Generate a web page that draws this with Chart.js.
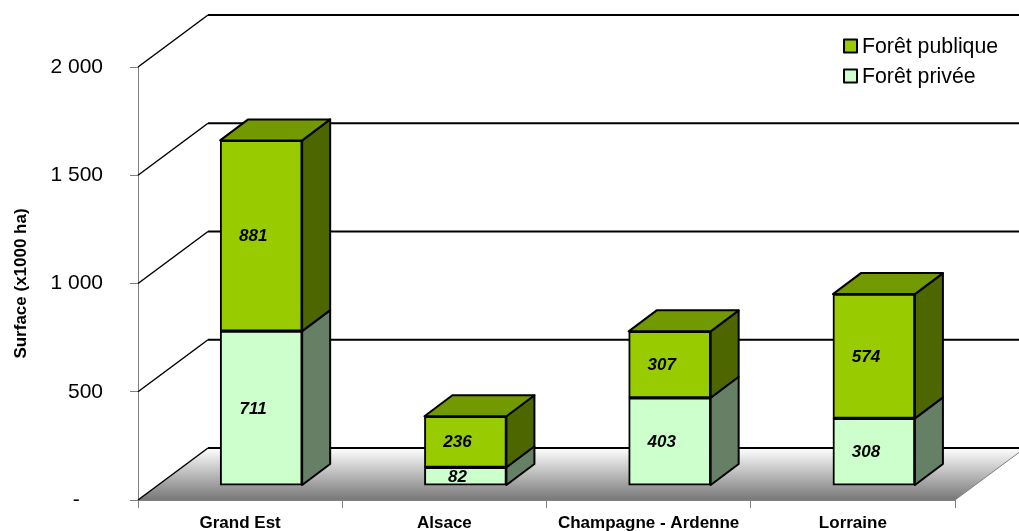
<!DOCTYPE html>
<html lang="fr">
<head>
<meta charset="utf-8">
<title>Surface forestière</title>
<script src="https://cdn.jsdelivr.net/npm/chart.js@4"></script>
<style>
  html, body { margin: 0; padding: 0; background: #fff; }
  canvas { display: block; }
</style>
</head>
<body>
<canvas id="graphique" width="1019" height="531"></canvas>
<script>
// === Données ===
const categories = ["Grand Est", "Alsace", "Champagne - Ardenne", "Lorraine"];
const foretPrivee = [711, 82, 403, 308];
const foretPublique = [881, 236, 307, 574];
const graduations = [0, 500, 1000, 1500, 2000];
const etiquettesY = ["-\u00A0\u00A0\u00A0\u00A0", "500", "1 000", "1 500", "2 000"];

// === Couleurs ===
const couleurs = {
  publique: { face: "#99CC00", dessus: "#739900", cote: "#4D6600" },
  privee: { face: "#CCFFCC", dessus: "#99BF99", cote: "#668066" },
  axe: "#808080"
};

// Profondeur de la scène 3D (mur du fond) et des barres, en pixels
const FOND = { dx: 70, dy: -52 };
const BARRE = { dx: 28, dy: -21 };
const POLICE = "'Liberation Sans', Arial, sans-serif";

function poly(ctx, pts, fill, stroke, lw) {
  ctx.beginPath();
  pts.forEach((p, i) => i ? ctx.lineTo(p[0], p[1]) : ctx.moveTo(p[0], p[1]));
  ctx.closePath();
  if (fill) { ctx.fillStyle = fill; ctx.fill(); }
  if (stroke) { ctx.strokeStyle = stroke; ctx.lineWidth = lw; ctx.lineJoin = "round"; ctx.stroke(); }
}

function ligne(ctx, x1, y1, x2, y2, color, lw) {
  ctx.beginPath();
  ctx.moveTo(x1, y1);
  ctx.lineTo(x2, y2);
  ctx.strokeStyle = color;
  ctx.lineWidth = lw;
  ctx.stroke();
}

// === Sol et mur du fond, sous les barres ===
const scene3D = {
  id: "scene3D",
  beforeDatasetsDraw(chart) {
    const { ctx, chartArea: a, scales: { y } } = chart;
    ctx.save();
    const yFond = a.bottom + FOND.dy;
    const degrade = ctx.createLinearGradient(0, yFond, 0, a.bottom);
    degrade.addColorStop(0, "#FFFFFF");
    degrade.addColorStop(1, "#777777");
    poly(ctx, [
      [a.left, a.bottom], [a.right, a.bottom],
      [a.right + FOND.dx, yFond], [a.left + FOND.dx, yFond]
    ], degrade);
    ligne(ctx, a.right, a.bottom, a.right + FOND.dx, yFond, couleurs.axe, 1);
    ligne(ctx, a.left, a.bottom, a.right, a.bottom, couleurs.axe, 1);
    graduations.forEach(v => {
      const py = y.getPixelForValue(v);
      ligne(ctx, a.left, py, a.left + FOND.dx, py + FOND.dy, "#000", 1.5);
      ligne(ctx, a.left + FOND.dx, py + FOND.dy, a.right + FOND.dx, py + FOND.dy, "#000", 2);
    });
    ctx.restore();
  },
  afterDatasetsDraw(chart) {
    const { ctx } = chart;
    ctx.save();
    const nb = chart.data.datasets.length;
    chart.data.datasets.forEach((ds, d) => {
      const teintes = d === 0 ? couleurs.privee : couleurs.publique;
      chart.getDatasetMeta(d).data.forEach(bar => {
        const g = bar.x - bar.width / 2, dr = bar.x + bar.width / 2;
        const { dx, dy } = BARRE;
        poly(ctx, [[dr, bar.y], [dr + dx, bar.y + dy], [dr + dx, bar.base + dy], [dr, bar.base]], teintes.cote, "#000", 2);
        if (d === nb - 1) {
          poly(ctx, [[g, bar.y], [dr, bar.y], [dr + dx, bar.y + dy], [g + dx, bar.y + dy]], teintes.dessus, "#000", 2);
        }
      });
    });
    // Étiquettes de valeur
    ctx.fillStyle = "#000";
    ctx.font = "italic bold 17px " + POLICE;
    ctx.textAlign = "center";
    ctx.textBaseline = "middle";
    chart.data.datasets.forEach((ds, d) => {
      chart.getDatasetMeta(d).data.forEach((bar, i) => {
        ctx.fillText(String(ds.data[i].y), bar.x - 8, (bar.y + bar.base) / 2 + 1);
      });
    });
    // Légende
    ctx.font = "21.3px " + POLICE;
    ctx.textAlign = "left";
    [chart.data.datasets[1], chart.data.datasets[0]].forEach((ds, i) => {
      const y0 = 46 + i * 30;
      poly(ctx, [[844, y0 - 6.5], [857, y0 - 6.5], [857, y0 + 6.5], [844, y0 + 6.5]], ds.backgroundColor, "#000", 2);
      ctx.fillStyle = "#000";
      ctx.fillText(ds.label, 862, y0 + 1);
    });
    ctx.restore();
  }
};

const pointsBarres = valeurs => valeurs.map((v, i) => ({ x: i, y: v }));

new Chart(document.getElementById("graphique"), {
  type: "bar",
  data: {
    labels: categories,
    datasets: [
      {
        label: "Forêt privée",
        data: pointsBarres(foretPrivee),
        backgroundColor: couleurs.privee.face,
        borderColor: "#000",
        borderWidth: 2,
        borderSkipped: false,
        barThickness: 82,
        xAxisID: "xBarres",
        yAxisID: "yBarres"
      },
      {
        label: "Forêt publique",
        data: pointsBarres(foretPublique),
        backgroundColor: couleurs.publique.face,
        borderColor: "#000",
        borderWidth: 2,
        borderSkipped: false,
        barThickness: 82,
        xAxisID: "xBarres",
        yAxisID: "yBarres"
      }
    ]
  },
  options: {
    responsive: false,
    animation: false,
    devicePixelRatio: 1,
    layout: { padding: { top: 67, right: 64, left: 0, bottom: 0 } },
    plugins: { legend: { display: false }, tooltip: { enabled: false } },
    scales: {
      x: {
        type: "category",
        offset: true,
        afterFit: s => { s.height = 31; },
        grid: { offset: true, drawOnChartArea: false, color: couleurs.axe, tickLength: 8 },
        border: { color: couleurs.axe },
        ticks: {
          color: "#000",
          font: { family: POLICE, size: 17, weight: "bold" },
          padding: 5,
          maxRotation: 0,
          autoSkip: false
        }
      },
      y: {
        type: "linear",
        min: 0,
        max: 2000,
        // le padding des graduations ne doit pas réserver de place sous l'axe
        afterFit: s => { s.width = 138; s.paddingTop = 0; s.paddingBottom = 0; },
        afterBuildTicks: s => { s.ticks = graduations.map(v => ({ value: v })); },
        grid: { drawOnChartArea: false, color: couleurs.axe, tickLength: 8 },
        border: { color: couleurs.axe },
        title: {
          display: true,
          text: "Surface (x1000 ha)",
          color: "#000",
          font: { family: POLICE, size: 17, weight: "bold" },
          padding: { top: 11, bottom: 0 }
        },
        ticks: {
          color: "#000",
          font: { family: POLICE, size: 21 },
          padding: 27,
          callback: v => etiquettesY[graduations.indexOf(v)]
        }
      },
      // Les barres sont posées en avant du plan des axes : échelles décalées, masquées
      xBarres: { type: "linear", axis: "x", display: false, stacked: true, offset: false, min: -0.603, max: 3.397 },
      yBarres: { type: "linear", axis: "y", display: false, stacked: true, min: -69, max: 1931 }
    }
  },
  plugins: [scene3D]
});
</script>
</body>
</html>
